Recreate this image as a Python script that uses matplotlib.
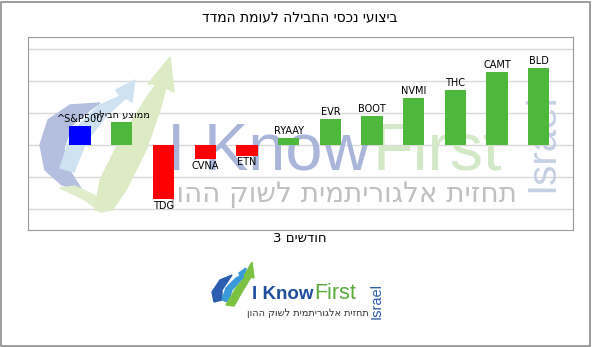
import matplotlib
matplotlib.use("Agg")
import matplotlib.pyplot as plt
from matplotlib.patches import Rectangle, Polygon
import numpy as np

# Hebrew strings are stored in logical order and reversed for display
def heb(s):
    return s[::-1]

tickers = ["^S&P500", "ממוצע חבילה", "TDG", "CVNA", "ETN", "RYAAY",
           "EVR", "BOOT", "NVMI", "THC", "CAMT", "BLD"]
returns = [6.0, 7.3, -17.0, -4.5, -3.5, 2.3, 8.0, 9.0, 14.8, 17.3, 22.9, 24.2]
bar_colors = ["#0000ff", "#4db83b", "#ff0000", "#ff0000", "#ff0000", "#4db83b",
              "#4db83b", "#4db83b", "#4db83b", "#4db83b", "#4db83b", "#4db83b"]
title = "ביצועי נכסי החבילה לעומת המדד"
xlabel = "3 חודשים"
tagline = "תחזית אלגוריתמית לשוק ההון"

plt.rcParams['font.family'] = ['DejaVu Sans']

W, H = 592, 347
fig = plt.figure(figsize=(W / 100, H / 100), dpi=100)
FT = fig.transFigure

def px(pts):
    # image pixel coords (from top-left) -> figure fraction
    return [(x / W, 1 - y / H) for x, y in pts]

# outer frame
fig.patches.append(Rectangle((0.5 / W, 1.5 / H), (W - 3) / W, (H - 3) / H,
                             transform=FT, fill=False,
                             edgecolor="#8c8c8c", linewidth=1.2))

ax = fig.add_axes([28 / W, (H - 230) / H, 545 / W, 193 / H])
ax.set_xlim(-1.25, 11.82)
ax.set_ylim(-26.6, 33.75)
for y in [-20, -10, 0, 10, 20, 30]:
    ax.axhline(y, color="#d9d9d9", linewidth=1.0, zorder=0)
for s in ax.spines.values():
    s.set_color("#9a9a9a")
ax.set_xticks([])
ax.set_yticks([])

# watermark (inside the axes, behind the bars)
swoosh = [
    ([(100, 103), (70, 105), (48, 120), (40, 145), (45, 170), (62, 185), (82, 190),
      (68, 168), (64, 148), (72, 125), (90, 110)], "#b4bfe0"),
    ([(60, 168), (72, 132), (98, 106), (120, 96), (116, 90), (135, 80), (132, 102),
      (126, 98), (106, 116), (86, 142), (74, 172)], "#cfe2f2"),
    ([(60, 188), (85, 200), (100, 212), (112, 210), (96, 196), (75, 186)], "#e0edcb"),
    ([(95, 210), (100, 180), (120, 140), (145, 100), (156, 84), (148, 84), (170, 57),
      (174, 92), (166, 88), (160, 110), (146, 150), (126, 190), (112, 210)], "#dcebc4"),
]
for pts, c in swoosh:
    ax.add_patch(Polygon(px(pts), transform=FT, color=c, zorder=1))

fig.canvas.draw()
r = fig.canvas.get_renderer()
wm1 = ax.text(167 / W, 1 - 170 / H, "I Know", fontsize=48, family="Liberation Sans",
              color="#a9b5d9", transform=FT, zorder=1)
e = wm1.get_window_extent(r)
ax.text(e.x1 / W + 2 / W, 1 - 170 / H, "First", fontsize=48, family="Liberation Sans",
        color="#d2e8c7", transform=FT, zorder=1)
ax.text(343 / W, 1 - 194 / H, heb(tagline), fontsize=20, ha="center", va="center",
        color="#c0c0c0", transform=FT, zorder=1)
ax.text(542 / W, 1 - 143 / H, "Israel", fontsize=29, family="Liberation Sans",
        rotation=90, ha="center", va="center", color="#c6d0e5", transform=FT, zorder=1)

x = np.arange(len(tickers))
ax.bar(x, returns, width=0.51, color=bar_colors, zorder=3)
for xi, v, t in zip(x, returns, tickers):
    label = heb(t) if t == "ממוצע חבילה" else t
    if v >= 0:
        ax.text(xi, v + 0.6, label, ha="center", va="bottom", fontsize=7, zorder=4)
    else:
        ax.text(xi, v - 0.4, label, ha="center", va="top", fontsize=7, zorder=4)

fig.text(300 / W, 1 - 17 / H, heb(title), ha="center", va="center", fontsize=10)
fig.text(300 / W, 1 - 239 / H, "3 " + heb("חודשים"), ha="center", va="center",
         fontsize=9.5)

# bottom logo
logo = [
    ([(232, 275), (220, 280), (212, 292), (214, 302), (222, 300), (222, 290)], "#2a5db0"),
    ([(222, 300), (226, 288), (236, 278), (240, 276), (239, 273), (246, 268),
      (245, 280), (242, 279), (232, 290), (228, 302)], "#3a9ad9"),
    ([(226, 305), (236, 288), (246, 276), (244, 276), (252, 262), (254, 278),
      (251, 277), (242, 292), (234, 306)], "#7cc242"),
]
for pts, c in logo:
    fig.patches.append(Polygon(px(pts), transform=FT, color=c))
t1 = fig.text(252 / W, 1 - 299 / H, "I Know", fontsize=13.5, family="Liberation Sans",
              color="#1f4e9c", fontweight="bold")
e = t1.get_window_extent(r)
fig.text(e.x1 / W + 1 / W, 1 - 299 / H, "First", fontsize=15.5,
         family="Liberation Sans", color="#5aaa3c")
fig.text(308 / W, 1 - 313 / H, heb(tagline), fontsize=7, ha="center",
         va="center", color="#333333")
fig.text(377 / W, 1 - 301 / H, "Israel", fontsize=10.5, family="Liberation Sans",
         rotation=90, ha="center", va="center", color="#2a5db0")

fig.savefig("out.png", dpi=100)
